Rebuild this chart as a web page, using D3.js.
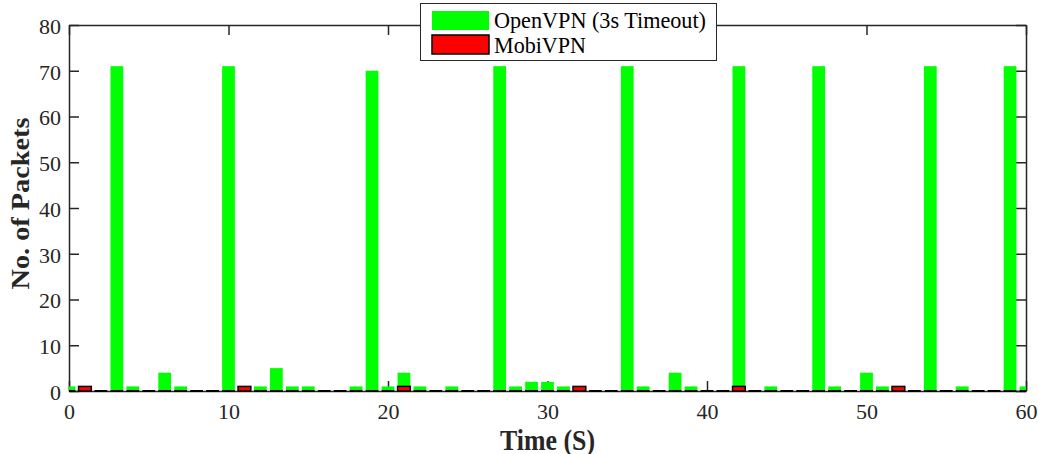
<!DOCTYPE html>
<html>
<head>
<meta charset="utf-8">
<script src="https://cdn.jsdelivr.net/npm/d3@7"></script>
<style>
  body { margin: 0; background: #fff; }
  svg text { font-family: "Liberation Serif", "Times New Roman", serif; }
</style>
</head>
<body>
<svg id="chart" width="1038" height="454"></svg>
<script>
// time steps (seconds)
const seconds = d3.range(0, 61);

// OpenVPN (3s Timeout) packets per second
const openvpn = [
  1, 0, 0, 71, 1, 0, 4, 1, 0, 0,
  71, 0, 1, 5, 1, 1, 0, 0, 1, 70,
  1, 4, 1, 0, 1, 0, 0, 71, 1, 2,
  2, 1, 0, 0, 0, 71, 1, 0, 4, 1,
  0, 0, 71, 0, 1, 0, 0, 71, 1, 0,
  4, 1, 0, 0, 71, 0, 1, 0, 0, 71,
  1
];

// MobiVPN packets per second
const mobivpnAt = [1, 11, 21, 32, 42, 52];
const mobivpn = seconds.map(s => mobivpnAt.includes(s) ? 1 : 0);

const xTicks = d3.range(0, 61, 10);
const yTicks = d3.range(0, 81, 10);
const seriesNames = ["OpenVPN (3s Timeout)", "MobiVPN"];

const axisColor = "#262626";
const serif = '"Liberation Serif", "Times New Roman", serif';
const barWidth = 0.8;

const svg = d3.select("#chart");

const x = d3.scaleLinear().domain([0, 60]).range([69, 1026]);
const y = d3.scaleLinear().domain([0, 80]).range([391, 25]);

// axes (drawn below the bars)
const gAxes = svg.append("g");

const gx = gAxes.append("g")
  .attr("transform", `translate(0,${y(0)})`)
  .call(d3.axisBottom(x).tickValues(xTicks).tickSizeInner(-10).tickSizeOuter(0).tickPadding(12));

const gxTop = gAxes.append("g")
  .attr("transform", `translate(0,${y(80)})`)
  .call(d3.axisTop(x).tickValues(xTicks).tickSizeInner(-10).tickSizeOuter(0).tickFormat(""));

const gy = gAxes.append("g")
  .attr("transform", `translate(${x(0)},0)`)
  .call(d3.axisLeft(y).tickValues(yTicks).tickSizeInner(-10).tickSizeOuter(0).tickPadding(8));

const gyRight = gAxes.append("g")
  .attr("transform", `translate(${x(60)},0)`)
  .call(d3.axisRight(y).tickValues(yTicks).tickSizeInner(-10).tickSizeOuter(0).tickFormat(""));

gAxes.selectAll("g").attr("font-family", null).style("font-family", serif);
gAxes.selectAll(".domain").attr("stroke", axisColor).attr("stroke-width", 1.5);
gAxes.selectAll(".tick line").attr("stroke", axisColor).attr("stroke-width", 1.5);
gAxes.selectAll(".tick text")
  .attr("fill", axisColor)
  .attr("font-size", 22)
  .style("font-family", serif);
gy.selectAll(".tick text").attr("dy", "0.38em");

// bars
svg.append("clipPath").attr("id", "plotClip")
  .append("rect")
  .attr("x", x(0)).attr("y", 0)
  .attr("width", x(60) - x(0)).attr("height", y(0) + 4);

const gBars = svg.append("g").attr("clip-path", "url(#plotClip)");

gBars.selectAll("rect.open")
  .data(seconds.filter(s => openvpn[s] > 0))
  .join("rect")
  .attr("class", "open")
  .attr("x", s => x(s - barWidth / 2))
  .attr("width", s => x(s + barWidth / 2) - x(s - barWidth / 2))
  .attr("y", s => y(openvpn[s]))
  .attr("height", s => y(0) - y(openvpn[s]))
  .attr("fill", "#00ff00");

// zero height MobiVPN bars show as black edges on the baseline
gBars.selectAll("line.mobiZero")
  .data(seconds.filter(s => mobivpn[s] === 0))
  .join("line")
  .attr("class", "mobiZero")
  .attr("x1", s => x(s - barWidth / 2))
  .attr("x2", s => x(s + barWidth / 2))
  .attr("y1", y(0)).attr("y2", y(0))
  .attr("stroke", "#000")
  .attr("stroke-width", 2);

gBars.selectAll("rect.mobi")
  .data(seconds.filter(s => mobivpn[s] > 0))
  .join("rect")
  .attr("class", "mobi")
  .attr("x", s => x(s - barWidth / 2))
  .attr("width", s => x(s + barWidth / 2) - x(s - barWidth / 2))
  .attr("y", s => y(mobivpn[s]))
  .attr("height", s => y(0) - y(mobivpn[s]))
  .attr("fill", "#ff0000")
  .attr("stroke", "#000")
  .attr("stroke-width", 1.5);

// axis titles
svg.append("text")
  .attr("x", 547.5).attr("y", 449.5)
  .attr("text-anchor", "middle")
  .attr("font-weight", "bold")
  .attr("font-size", 29)
  .attr("fill", axisColor)
  .attr("textLength", 95)
  .attr("lengthAdjust", "spacingAndGlyphs")
  .text("Time (S)");

svg.append("text")
  .attr("transform", "translate(28.5,203.5) rotate(-90)")
  .attr("text-anchor", "middle")
  .attr("font-weight", "bold")
  .attr("font-size", 25)
  .attr("fill", axisColor)
  .attr("textLength", 172)
  .attr("lengthAdjust", "spacingAndGlyphs")
  .text("No. of Packets");

// legend
const legend = svg.append("g");
legend.append("rect")
  .attr("x", 420.5).attr("y", 3.5)
  .attr("width", 296).attr("height", 57)
  .attr("fill", "#fff")
  .attr("stroke", axisColor)
  .attr("stroke-width", 1);

const legendColors = ["#00ff00", "#ff0000"];
const legendStroke = ["none", "#000"];
const legendTextLen = [212, 92];

seriesNames.forEach((name, i) => {
  legend.append("rect")
    .attr("x", 432).attr("y", 11 + i * 24)
    .attr("width", 57).attr("height", 19)
    .attr("fill", legendColors[i])
    .attr("stroke", legendStroke[i])
    .attr("stroke-width", 1.5);
  legend.append("text")
    .attr("x", 494).attr("y", 28.3 + i * 24.4)
    .attr("font-size", 23)
    .attr("fill", "#000")
    .attr("textLength", legendTextLen[i])
    .attr("lengthAdjust", "spacingAndGlyphs")
    .text(name);
});
</script>
</body>
</html>
